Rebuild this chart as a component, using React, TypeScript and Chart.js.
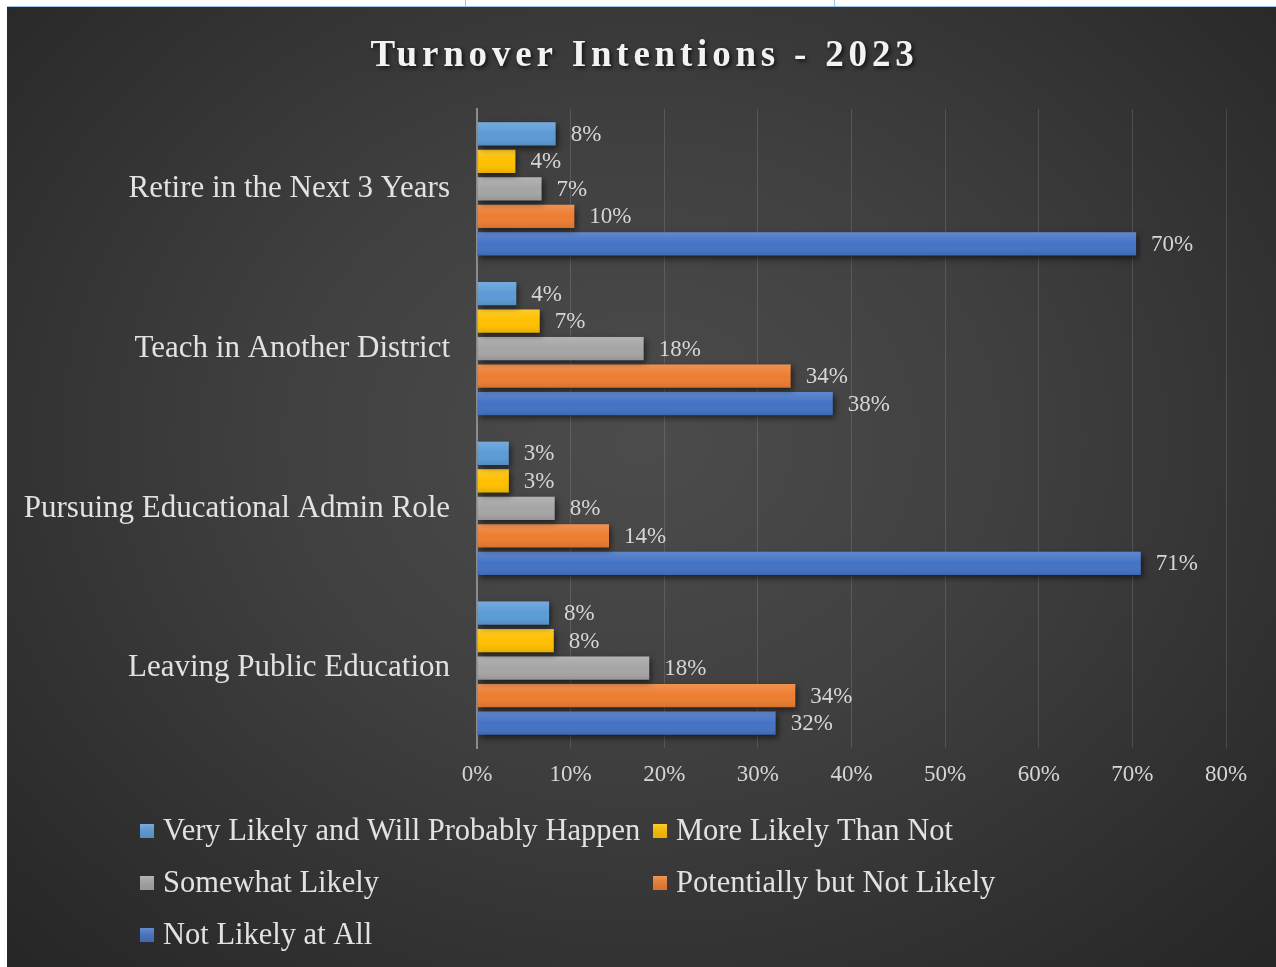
import React, { useEffect, useRef } from 'react';
import { Chart, registerables } from 'chart.js';

Chart.register(...registerables);

const FONT = '"Liberation Serif", "Times New Roman", serif';

const titleText = 'Turnover Intentions - 2023';
const categories = [
  'Retire in the Next 3 Years',
  'Teach in Another District',
  'Pursuing Educational Admin Role',
  'Leaving Public Education',
];
const seriesNames = [
  'Very Likely and Will Probably Happen',
  'More Likely Than Not',
  'Somewhat Likely',
  'Potentially but Not Likely',
  'Not Likely at All',
];
const veryLikely = [8.4, 4.2, 3.4, 7.7];
const moreLikely = [4.1, 6.7, 3.4, 8.2];
const somewhatLikely = [6.9, 17.8, 8.3, 18.4];
const potentiallyNot = [10.4, 33.5, 14.1, 34.0];
const notLikely = [70.4, 38.0, 70.9, 31.9];
const seriesColors = ['#5b9bd5', '#ffc000', '#a5a5a5', '#ed7d31', '#4472c4'];
const xMin = 0;
const xMax = 80;
const xStep = 10;

const seriesValues = [veryLikely, moreLikely, somewhatLikely, potentiallyNot, notLikely];

const stylePlugin = {
  id: 'styleBars',
  beforeDatasetsDraw(chart: any) {
    const ctx = chart.ctx;
    ctx.save();
    ctx.shadowColor = 'rgba(0,0,0,0.55)';
    ctx.shadowBlur = 6;
    ctx.shadowOffsetX = 2;
    ctx.shadowOffsetY = 3;
  },
  afterDatasetsDraw(chart: any) {
    const ctx = chart.ctx;
    ctx.restore();
    chart.data.datasets.forEach((ds: any, di: number) => {
      const meta = chart.getDatasetMeta(di);
      meta.data.forEach((bar: any, i: number) => {
        const left = Math.min(bar.base, bar.x);
        const w = Math.abs(bar.x - bar.base);
        const top = bar.y - bar.height / 2;
        const g = ctx.createLinearGradient(0, top, 0, top + bar.height);
        g.addColorStop(0, 'rgba(255,255,255,0.16)');
        g.addColorStop(0.5, 'rgba(255,255,255,0.0)');
        g.addColorStop(1, 'rgba(0,0,0,0.10)');
        ctx.save();
        ctx.fillStyle = g;
        ctx.fillRect(left, top, w, bar.height);
        ctx.restore();
        ctx.save();
        ctx.font = `23px ${FONT}`;
        ctx.fillStyle = '#d6d6d6';
        ctx.textAlign = 'left';
        ctx.textBaseline = 'middle';
        ctx.fillText(Math.round(ds.data[i]) + '%', bar.x + 15, bar.y + 1);
        ctx.restore();
      });
    });
  },
  afterDraw(chart: any) {
    const ctx = chart.ctx;
    ctx.save();
    ctx.font = `bold 37px ${FONT}`;
    (ctx as any).letterSpacing = '4.8px';
    ctx.fillStyle = '#f2f2f2';
    ctx.textAlign = 'center';
    ctx.textBaseline = 'alphabetic';
    ctx.shadowColor = 'rgba(0,0,0,0.7)';
    ctx.shadowBlur = 4;
    ctx.shadowOffsetX = 2;
    ctx.shadowOffsetY = 2;
    ctx.fillText(titleText, chart.width / 2 + 3, 59);
    ctx.restore();

    const cols = [133, 646];
    const rows = [824, 876, 928];
    seriesNames.forEach((name, i) => {
      const cx = cols[i % 2];
      const cy = rows[Math.floor(i / 2)];
      ctx.save();
      ctx.fillStyle = seriesColors[i];
      ctx.fillRect(cx, cy - 7, 14, 14);
      const g2 = ctx.createLinearGradient(0, cy - 7, 0, cy + 7);
      g2.addColorStop(0, 'rgba(255,255,255,0.18)');
      g2.addColorStop(1, 'rgba(0,0,0,0.08)');
      ctx.fillStyle = g2;
      ctx.fillRect(cx, cy - 7, 14, 14);
      ctx.font = `30.5px ${FONT}`;
      ctx.fillStyle = '#e2e2e2';
      ctx.textAlign = 'left';
      ctx.textBaseline = 'middle';
      ctx.fillText(name, cx + 23, cy + 1);
      ctx.restore();
    });
  },
};

export default function App() {
  const ref = useRef<HTMLCanvasElement | null>(null);

  useEffect(() => {
    if (!ref.current) return;
    const chart = new Chart(ref.current, {
      type: 'bar',
      data: {
        labels: categories,
        datasets: seriesNames.map((name, i) => ({
          label: name,
          data: seriesValues[i],
          backgroundColor: seriesColors[i],
          borderWidth: 0,
          categoryPercentage: 0.861,
          barPercentage: 0.85,
        })),
      },
      options: {
        indexAxis: 'y',
        responsive: false,
        animation: false,
        devicePixelRatio: 1,
        layout: { padding: { top: 102, bottom: 159, left: 0, right: 50 } },
        plugins: {
          legend: { display: false },
          title: { display: false },
          tooltip: { enabled: false },
        },
        scales: {
          x: {
            min: xMin,
            max: xMax,
            ticks: {
              stepSize: xStep,
              callback: (v: any) => v + '%',
              color: '#d6d6d6',
              font: { family: FONT, size: 23 },
              padding: 13,
            },
            grid: { color: 'rgba(255,255,255,0.13)', drawTicks: false, lineWidth: 1 },
            border: { display: false },
            afterFit: (s: any) => { s.height = 60; },
          },
          y: {
            ticks: {
              color: '#e2e2e2',
              font: { family: FONT, size: 31 },
              padding: 19,
            },
            grid: { display: false },
            border: { display: true, color: '#8c8c8c', width: 2 },
            afterFit: (s: any) => { s.width = 470; },
          },
        },
      },
      plugins: [stylePlugin],
    } as any);
    return () => chart.destroy();
  }, []);

  return (
    <div style={{ position: 'relative', width: 1276, height: 967, background: '#ffffff', overflow: 'hidden' }}>
      <style>{`body{margin:0;}`}</style>
      <div style={{ position: 'absolute', left: 7, top: 6, width: 1269, height: 1, background: '#9dc3e6' }} />
      <div style={{ position: 'absolute', left: 465, top: 0, width: 1, height: 7, background: '#9dc3e6' }} />
      <div style={{ position: 'absolute', left: 834, top: 0, width: 1, height: 7, background: '#9dc3e6' }} />
      <div
        style={{
          position: 'absolute',
          left: 7,
          top: 7,
          width: 1269,
          height: 960,
          background: 'radial-gradient(ellipse at 50% 45%, #4c4c4c 0%, #404040 40%, #2c2c2c 85%, #262626 100%)',
        }}
      >
        <canvas ref={ref} width={1269} height={960} style={{ display: 'block', width: 1269, height: 960 }} />
      </div>
    </div>
  );
}
